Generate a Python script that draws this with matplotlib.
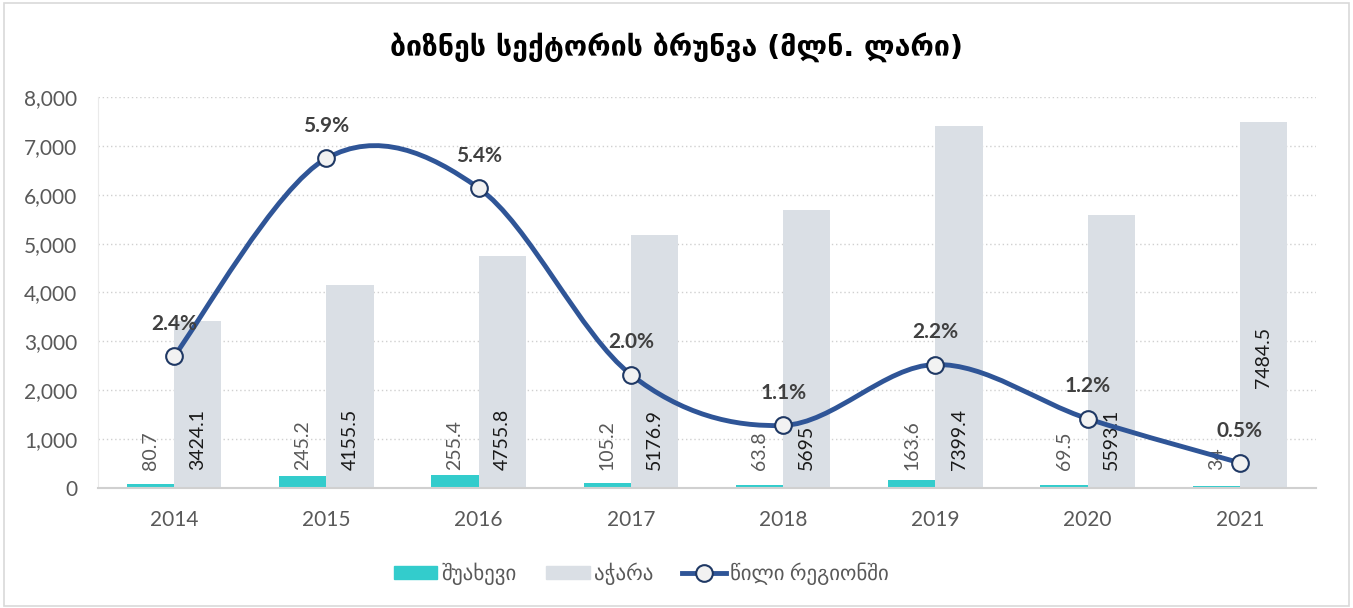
import numpy as np
import matplotlib
matplotlib.use("Agg")
import matplotlib.pyplot as plt
from matplotlib.patches import Rectangle
from matplotlib.lines import Line2D
from matplotlib.path import Path
from matplotlib.patches import PathPatch

plt.rcParams['font.family'] = ['Lato', 'DejaVu Sans']

years = ['2014', '2015', '2016', '2017', '2018', '2019', '2020', '2021']
shuakhevi = [80.7, 245.2, 255.4, 105.2, 63.8, 163.6, 69.5, 34]
ajara = [3424.1, 4155.5, 4755.8, 5176.9, 5695, 7399.4, 5593.1, 7484.5]
share = [2.36, 5.90, 5.37, 2.03, 1.12, 2.21, 1.24, 0.45]
share_labels = ['2.4%', '5.9%', '5.4%', '2.0%', '1.1%', '2.2%', '1.2%', '0.5%']

title = 'ბიზნეს სექტორის ბრუნვა (მლნ. ლარი)'
leg_names = ['შუახევი', 'აჭარა', 'წილი რეგიონში']

teal = '#33CCCC'
grey = '#DADFE5'
blue = '#2F5597'
txt = '#595959'

fig = plt.figure(figsize=(13.53, 6.08), dpi=100)
fig.patches.append(Rectangle((0.003, 0.003), 0.994, 0.992, transform=fig.transFigure,
                             fill=False, edgecolor='#D9D9D9', linewidth=1.2))

ax = fig.add_axes([0.0724, 0.1974, 0.9003, 0.6431])
x = np.arange(len(years))
w = 0.31
ax.bar(x - w / 2, shuakhevi, w, color=teal, zorder=2)
ax.bar(x + w / 2, ajara, w, color=grey, zorder=2)

ax.set_ylim(0, 8000)
ax.set_xlim(-0.5, len(years) - 0.5)
ax.set_yticks(range(0, 8001, 1000))
ax.set_yticklabels([f'{v:,}' for v in range(0, 8001, 1000)])
ax.set_xticks(x)
ax.set_xticklabels(years)
ax.tick_params(axis='both', length=0, labelsize=15, colors=txt)
ax.tick_params(axis='x', pad=16)
ax.tick_params(axis='y', pad=15)
for v in range(1000, 8001, 1000):
    ax.axhline(v, color='#D0D0D0', linestyle=(0, (1, 2)), linewidth=1, zorder=0)
for s in ['top', 'right']:
    ax.spines[s].set_visible(False)
ax.spines['bottom'].set_color('#D0D0D0')
ax.spines['bottom'].set_linewidth(1.5)
ax.spines['left'].set_color('#EAEAEA')

# bar value labels
for i in range(len(years)):
    ax.annotate(f'{shuakhevi[i]:g}', (x[i] - w / 2, 0), xytext=(0, 13), textcoords='offset points',
                rotation=90, ha='center', va='bottom', fontsize=14, color=txt)
    off = 72 if i == len(years) - 1 else 13
    ax.annotate(f'{ajara[i]:g}', (x[i] + w / 2, 0), xytext=(0, off), textcoords='offset points',
                rotation=90, ha='center', va='bottom', fontsize=14, color='#1a1a1a')

# share line on hidden secondary axis, smoothed (catmull-rom bezier)
ax2 = ax.twinx()
ax2.set_ylim(0, 7)
ax2.axis('off')
pts = np.column_stack([x, share]).astype(float)
verts = [tuple(pts[0])]
codes = [Path.MOVETO]
n = len(pts)
for i in range(n - 1):
    p0 = pts[i - 1] if i > 0 else pts[i]
    p1 = pts[i]
    p2 = pts[i + 1]
    p3 = pts[i + 2] if i + 2 < n else pts[i + 1]
    c1 = p1 + (p2 - p0) / 6
    c2 = p2 - (p3 - p1) / 6
    verts += [tuple(c1), tuple(c2), tuple(p2)]
    codes += [Path.CURVE4] * 3
ax2.add_patch(PathPatch(Path(verts, codes), fill=False, edgecolor=blue, linewidth=3.5,
                        capstyle='round', zorder=3))
ax2.plot(x, share, linestyle='none', marker='o', markersize=12, markerfacecolor='#F2F2F2',
         markeredgecolor='#1F3864', markeredgewidth=1.5, zorder=4)
for i in range(n):
    ax2.annotate(share_labels[i], (x[i], share[i]), xytext=(0, 16), textcoords='offset points',
                 ha='center', va='bottom', fontsize=15, fontweight='bold', color='#404040')

fig.text(0.5, 0.922, title, ha='center', va='center', fontsize=20.5, fontweight='bold',
         color='#000000', family=['DejaVu Sans'])

handles = [Rectangle((0, 0), 1, 1, color=teal), Rectangle((0, 0), 1, 1, color=grey),
           Line2D([], [], color=blue, linewidth=3.5, marker='o', markersize=12,
                  markerfacecolor='#F2F2F2', markeredgecolor='#1F3864', markeredgewidth=1.5)]
leg = fig.legend(handles, leg_names, loc='center', bbox_to_anchor=(0.474, 0.057), ncol=3,
                 frameon=False, fontsize=15, handlelength=2.1, columnspacing=1.4,
                 handletextpad=0.2, handleheight=0.6)
for t in leg.get_texts():
    t.set_color(txt)

fig.savefig('out.png', dpi=100)
